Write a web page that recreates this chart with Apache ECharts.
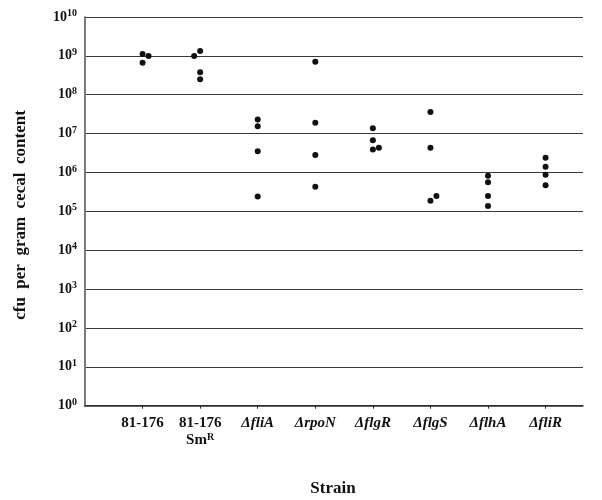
<!DOCTYPE html>
<html>
<head>
<meta charset="utf-8">
<script src="https://cdn.jsdelivr.net/npm/echarts@6/dist/echarts.min.js"></script>
<style>
  html, body { margin: 0; padding: 0; background: #fff; }
  #chart { width: 602px; height: 500px; }
</style>
</head>
<body>
<div id="chart"></div>
<script>
// Strains along the x axis (rich-text labels are built from these below)
const strains = ['81-176', '81-176 SmR', 'ΔfliA', 'ΔrpoN', 'ΔflgR', 'ΔflgS', 'ΔflhA', 'ΔfliR'];

// Colonisation (cfu per gram cecal content), one array per strain
const wt81176 = [1.12e9, 6.7e8, 9.9e8];
const wtSmR   = [1.33e9, 3.8e8, 2.5e8, 9.9e8];
const fliA    = [2.3e7, 1.54e7, 3.5e6, 2.4e5];
const rpoN    = [7.1e8, 1.9e7, 2.8e6, 4.3e5];
const flgR    = [1.37e7, 6.7e6, 3.9e6, 4.3e6];
const flgS    = [3.6e7, 4.3e6, 1.88e5, 2.5e5];
const flhA    = [8.3e5, 5.6e5, 2.5e5, 1.37e5];
const fliR    = [2.4e6, 1.41e6, 8.8e5, 4.7e5];

const groups = [wt81176, wtSmR, fliA, rpoN, flgR, flgS, flhA, fliR];

// Y tick exponents (10^0 .. 10^10)
const yExponents = [0, 1, 2, 3, 4, 5, 6, 7, 8, 9, 10];

// Overlapping dots are nudged sideways; which side per strain
const dodgeSide = [1, -1, 1, 1, 1, 1, 1, 1];
const dodgeStep = 0.104;      // x units (about one dot width)
const overlapDecades = 0.15;  // vertical closeness that counts as overlap

const points = [];
groups.forEach((vals, i) => {
  const centred = [];
  vals.forEach(v => {
    const lv = Math.log10(v);
    const clash = centred.some(c => Math.abs(c - lv) < overlapDecades);
    let x = i + 1;
    if (clash) {
      x += dodgeSide[i] * dodgeStep;
    } else {
      centred.push(lv);
    }
    points.push([x, v]);
  });
});

const serif = "'Liberation Serif', 'Times New Roman', serif";

function xLabel(value) {
  const idx = Math.round(value) - 1;
  if (idx < 0 || idx >= strains.length || Math.abs(value - idx - 1) > 1e-6) return '';
  const s = strains[idx];
  if (s === '81-176 SmR') return '{n|81-176}\n{n|Sm}{s|R}';
  if (s.charAt(0) === 'Δ') return '{g|' + s + '}';
  return '{n|' + s + '}';
}

const chart = echarts.init(document.getElementById('chart'), null, { renderer: 'canvas' });

chart.setOption({
  animation: false,
  backgroundColor: '#fff',
  grid: { left: 85, top: 17, width: 498, height: 388.7, containLabel: false },
  xAxis: {
    type: 'value',
    min: 0,
    max: 8.65,
    interval: 1,
    splitLine: { show: false },
    axisLine: { show: true, lineStyle: { color: '#2a2a2a', width: 1.5 } },
    axisTick: {
      show: true, length: 3, inside: false,
      customValues: strains.map((_, i) => i + 1),
      lineStyle: { color: '#2a2a2a', width: 1 }
    },
    axisLabel: {
      customValues: strains.map((_, i) => i + 1),
      margin: 9,
      formatter: xLabel,
      rich: {
        n: { fontFamily: serif, fontWeight: 'bold', fontSize: 15, lineHeight: 17, color: '#111' },
        s: { fontFamily: serif, fontWeight: 'bold', fontSize: 10, lineHeight: 17, padding: [0, 0, 6, 0], color: '#111' },
        g: { fontFamily: serif, fontWeight: 'bold', fontStyle: 'italic', fontSize: 15, lineHeight: 17, color: '#111' }
      }
    }
  },
  yAxis: {
    type: 'log',
    logBase: 10,
    min: 1,
    max: 1e10,
    interval: 1,
    splitNumber: 10,
    axisLine: { show: true, lineStyle: { color: '#7a7a7a', width: 2 } },
    axisTick: { show: false },
    splitLine: { show: true, lineStyle: { color: '#3a3a3a', width: 1.2 } },
    axisLabel: {
      margin: 8,
      formatter: function (v) {
        const e = Math.round(Math.log10(v));
        if (yExponents.indexOf(e) < 0) return '';
        return '{b|10}{s|' + e + '}';
      },
      rich: {
        b: { fontFamily: serif, fontWeight: 'bold', fontSize: 14, color: '#111' },
        s: { fontFamily: serif, fontWeight: 'bold', fontSize: 10, padding: [0, 0, 7, 0], color: '#111' }
      }
    }
  },
  graphic: [
    {
      type: 'text',
      x: 21, y: 215,
      rotation: Math.PI / 2,
      style: {
        text: 'cfu  per  gram  cecal  content',
        font: 'bold 17px ' + serif,
        fill: '#111',
        align: 'center',
        verticalAlign: 'middle'
      }
    },
    {
      type: 'text',
      x: 333, y: 489,
      style: {
        text: 'Strain',
        font: 'bold 17px ' + serif,
        fill: '#111',
        align: 'center',
        verticalAlign: 'middle'
      }
    }
  ],
  series: [{
    type: 'scatter',
    data: points,
    symbol: 'circle',
    symbolSize: 6,
    itemStyle: { color: '#111', opacity: 1 },
    z: 5
  }]
});
</script>
</body>
</html>
